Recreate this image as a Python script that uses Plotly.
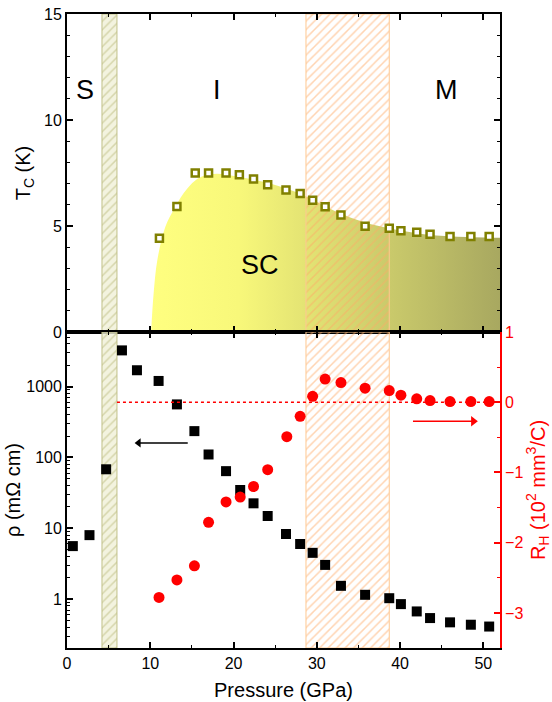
import plotly.graph_objects as go

# ---------------- data ----------------
# Top panel: superconducting Tc vs pressure
tc_pressure = [11.1, 13.2, 15.4, 17.0, 19.1, 20.7, 22.4, 24.1, 26.3, 28.0, 29.5,
               31.0, 32.9, 35.8, 38.7, 40.1, 42.0, 43.6, 46.0, 48.5, 50.7]
tc_values = [4.42, 5.92, 7.5, 7.5, 7.5, 7.42, 7.22, 6.95, 6.7, 6.53, 6.21,
             5.91, 5.52, 4.99, 4.89, 4.78, 4.70, 4.61, 4.50, 4.50, 4.50]

# SC dome boundary
sc_pressure = [10.1, 10.4, 10.85, 11.8, 12.8, 14.0, 15.4, 16.5, 18.0, 20.8, 24.4,
               28.4, 32.4, 35.6, 38.8, 42.4, 46.4, 52.0]
sc_tc = [0, 1.8, 3.4, 4.95, 5.75, 6.55, 7.15, 7.38, 7.47, 7.31, 7.0,
         6.45, 5.66, 5.19, 4.88, 4.64, 4.51, 4.45]

# Bottom panel: resistivity (log) and Hall coefficient
rho_pressure = [0.7, 2.7, 4.7, 6.6, 8.4, 11.0, 13.2, 15.3, 17.0, 19.1, 20.8, 22.4, 24.1,
                26.3, 28.0, 29.5, 31.0, 32.9, 35.8, 38.7, 40.1, 42.0, 43.6, 46.0, 48.5, 50.7]
rho_values = [5.6, 8.0, 68, 3240, 1700, 1200, 560, 235, 110, 64, 34.7, 22.5, 14.9,
              8.3, 6.0, 4.5, 3.04, 1.54, 1.15, 1.03, 0.85, 0.67, 0.54, 0.47, 0.435, 0.41]

rh_pressure = [11.05, 13.2, 15.3, 17.0, 19.1, 20.8, 22.4, 24.1, 26.4, 28.0, 29.5,
               31.0, 32.9, 35.8, 38.7, 40.1, 42.0, 43.6, 46.0, 48.5, 50.7]
rh_values = [-2.78, -2.53, -2.33, -1.71, -1.42, -1.35, -1.20, -0.96, -0.49, -0.20, 0.085,
             0.33, 0.28, 0.20, 0.166, 0.10, 0.048, 0.024, 0.01, 0.01, 0.01]

# Phase-boundary bands (GPa)
band_green = [4.2, 6.0]
band_orange = [28.7, 38.7]

# Phase labels
phase_labels = ["S", "I", "M", "SC"]
phase_label_x = [2.2, 18.0, 45.6, 23.2]
phase_label_y = [11.4, 11.4, 11.4, 3.15]

# Axis-pointer arrows (x from tail to head, y level)
rho_arrow_x = [14.5, 8.6]
rho_arrow_y = 160
rh_arrow_x = [41.55, 48.8]
rh_arrow_y = -0.27

# Axis settings
x_range = [0, 52]
tc_range = [0, 15]
rho_log_range = [-0.69, 3.77]
rh_range = [-3.5, 1]
rh_zero_line_x = [6.0, 52]

OLIVE = "#808000"
RED = "#FF0000"
FONT = "Arial, Liberation Sans, sans-serif"
TICK_SIZE = 16
TITLE_SIZE = 20

fig = go.Figure()

# SC dome fill
fig.add_trace(go.Scatter(
    x=sc_pressure, y=sc_tc, mode="lines", line=dict(width=0, shape="spline"),
    fill="tozeroy",
    fillgradient=dict(type="horizontal",
                      colorscale=[[0, "#FFFF80"], [0.25, "#F8F87A"], [1, "#A8A860"]]),
    xaxis="x", yaxis="y", hoverinfo="skip", showlegend=False))


def band(xr, y0, y1, fg, bg, edge, xa, ya):
    fig.add_trace(go.Scatter(
        x=[xr[0], xr[1], xr[1], xr[0], xr[0]], y=[y0, y0, y1, y1, y0],
        mode="lines", line=dict(width=1, color=edge),
        fill="toself", fillcolor=bg,
        fillpattern=dict(shape="/", fgcolor=fg, size=6, solidity=0.25, fillmode="overlay"),
        xaxis=xa, yaxis=ya, hoverinfo="skip", showlegend=False))


lo = 10 ** rho_log_range[0]
hi = 10 ** rho_log_range[1]
for xa, ya, y0, y1 in [("x", "y", tc_range[0], tc_range[1]), ("x2", "y2", lo, hi)]:
    band(band_green, y0, y1, "#B8B878", "rgba(240,240,215,0.8)", "#C0C088", xa, ya)
    band(band_orange, y0, y1, "#FFAA66", "rgba(255,255,255,0)", "#FFC890", xa, ya)

# Tc squares
fig.add_trace(go.Scatter(
    x=tc_pressure, y=tc_values, mode="markers",
    marker=dict(symbol="square", size=7, color="white", line=dict(color=OLIVE, width=2.5)),
    xaxis="x", yaxis="y", showlegend=False))

# resistivity squares
fig.add_trace(go.Scatter(
    x=rho_pressure, y=rho_values, mode="markers",
    marker=dict(symbol="square", size=10, color="black", line=dict(width=0)),
    xaxis="x2", yaxis="y2", showlegend=False))

# black arrow (points to left axis)
fig.add_trace(go.Scatter(
    x=rho_arrow_x, y=[rho_arrow_y] * 2, mode="lines",
    line=dict(color="black", width=1.5), xaxis="x2", yaxis="y2",
    hoverinfo="skip", showlegend=False))
fig.add_trace(go.Scatter(
    x=[rho_arrow_x[1]], y=[rho_arrow_y], mode="markers",
    marker=dict(symbol="triangle-left", size=8, color="black", line=dict(width=0)),
    xaxis="x2", yaxis="y2", hoverinfo="skip", showlegend=False))

# RH zero dashed line
fig.add_trace(go.Scatter(
    x=rh_zero_line_x, y=[0, 0], mode="lines",
    line=dict(color=RED, width=1.5, dash="3px,3px"),
    xaxis="x2", yaxis="y3", hoverinfo="skip", showlegend=False))

# Hall circles
fig.add_trace(go.Scatter(
    x=rh_pressure, y=rh_values, mode="markers",
    marker=dict(symbol="circle", size=11, color=RED, line=dict(width=0)),
    xaxis="x2", yaxis="y3", showlegend=False))

# red arrow (points to right axis)
fig.add_trace(go.Scatter(
    x=rh_arrow_x, y=[rh_arrow_y] * 2, mode="lines",
    line=dict(color=RED, width=1.5), xaxis="x2", yaxis="y3",
    hoverinfo="skip", showlegend=False))
fig.add_trace(go.Scatter(
    x=[rh_arrow_x[1]], y=[rh_arrow_y], mode="markers",
    marker=dict(symbol="triangle-right", size=9, color=RED, line=dict(width=0)),
    xaxis="x2", yaxis="y3", hoverinfo="skip", showlegend=False))

split = 0.4984
common = dict(showline=True, linecolor="black", linewidth=1.8, ticks="inside",
              ticklen=6, tickwidth=1.5, tickcolor="black", showgrid=False, zeroline=False,
              automargin=False,
              tickfont=dict(family=FONT, size=TICK_SIZE, color="black"))
minor_k = dict(ticks="inside", ticklen=3.5, tickwidth=1.3, tickcolor="black")

fig.update_layout(
    width=552, height=702,
    margin=dict(l=67, r=52, t=14, b=54),
    paper_bgcolor="white", plot_bgcolor="rgba(0,0,0,0)",
    font=dict(family=FONT, size=TICK_SIZE, color="black"),
    xaxis=dict(**common, domain=[0, 1], anchor="y", range=x_range, dtick=10,
               showticklabels=False, mirror="ticks", minor=dict(**minor_k, dtick=5)),
    yaxis=dict(**common, domain=[split, 1], anchor="x", range=tc_range, dtick=5, mirror="ticks",
               minor=dict(**minor_k, dtick=1),
               title=dict(text="T<sub>C</sub> (K)", font=dict(family=FONT, size=TITLE_SIZE),
                          standoff=8)),
    xaxis2=dict(**common, domain=[0, 1], anchor="y2", range=x_range, dtick=10, mirror="ticks",
                minor=dict(**minor_k, dtick=5),
                title=dict(text="Pressure (GPa)", font=dict(family=FONT, size=TITLE_SIZE),
                           standoff=12)),
    yaxis2=dict(**common, domain=[0, split], anchor="x2", type="log", range=rho_log_range,
                tickvals=[1, 10, 100, 1000], ticktext=["1", "10", "100", "1000"],
                minor=dict(**minor_k,
                           tickvals=[m * 10 ** e for e in range(-1, 4) for m in range(2, 10)]),
                title=dict(text="ρ (mΩ cm)", font=dict(family=FONT, size=TITLE_SIZE), standoff=0)),
    yaxis3=dict(showline=True, linecolor=RED, linewidth=1.8, ticks="inside", ticklen=6,
                tickwidth=1.5, tickcolor=RED, showgrid=False, zeroline=False, automargin=False,
                overlaying="y2", side="right", anchor="x2", range=rh_range, dtick=1,
                tickfont=dict(family=FONT, size=TICK_SIZE, color=RED),
                minor=dict(ticks="inside", dtick=0.5, ticklen=3.5, tickwidth=1.3, tickcolor=RED),
                title=dict(text="R<sub>H</sub> (10<sup>2</sup> mm<sup>3</sup>/C)",
                           font=dict(family=FONT, size=TITLE_SIZE, color=RED), standoff=3)),
)

for t, x, y in zip(phase_labels, phase_label_x, phase_label_y):
    fig.add_annotation(x=x, y=y, xref="x", yref="y", text=t, showarrow=False,
                       font=dict(family=FONT, size=27, color="black"))

fig.write_html("out.html")
